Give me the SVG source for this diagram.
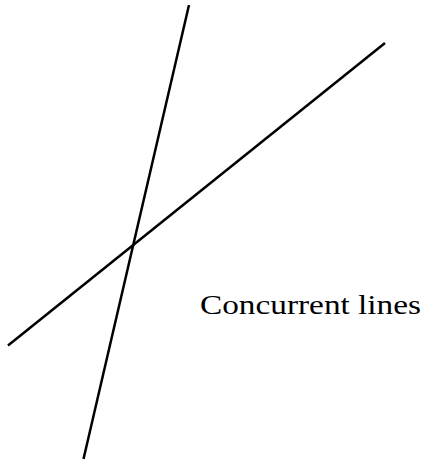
<svg xmlns="http://www.w3.org/2000/svg" width="423" height="462" viewBox="0 0 423 462">
<style>
.ln{stroke:#000;stroke-width:2.5;fill:none;stroke-linecap:butt}
.lbl{font-family:"Liberation Serif","DejaVu Serif",serif;font-size:26.5px;fill:#000}
</style>
<rect width="423" height="462" fill="#fff"/>
<g id="connectors">
<line class="ln" x1="189" y1="5" x2="83.5" y2="459"/>
<line class="ln" x1="8" y1="345.5" x2="385" y2="43"/>
</g>
<g id="label">
<text class="lbl" x="200" y="314" textLength="221" lengthAdjust="spacingAndGlyphs">Concurrent lines</text>
</g>
</svg>
